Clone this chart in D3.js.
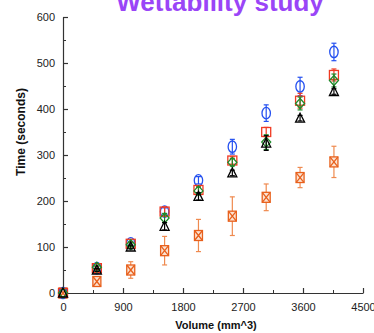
<!DOCTYPE html>
<html>
<head>
<meta charset="utf-8">
<script src="https://cdn.jsdelivr.net/npm/d3@7"></script>
<style>
  body { margin: 0; background: #fff; }
  svg text { font-family: "Liberation Sans", Arial, sans-serif; }
</style>
</head>
<body>
<div id="chart-container"></div>
<script>
// Volume (mm^3) of each run
const volumes = [0, 508, 1016, 1524, 2032, 2540, 3048, 3556, 4064];

// Time (s) per surface, and standard deviation
const blueTimes = [0, 54, 108, 177, 245, 318, 391, 449, 524];
const blueErr = [0, 3, 4, 8, 8, 16, 18, 20, 19];
const redTimes = [0, 54, 107, 177, 224, 288, 350, 418, 474];
const redErr = [0, 3, 4, 10, 8, 8, 10, 16, 13];
const greenTimes = [0, 56, 105, 163, 222, 284, 328, 412, 462];
const greenErr = [0, 3, 4, 10, 8, 8, 16, 14, 14];
const blackTimes = [0, 50, 100, 145, 210, 261, 326, 380, 438];
const blackErr = [0, 3, 4, 8, 8, 6, 16, 6, 6];
const orangeTimes = [0, 25, 50, 92, 125, 167, 208, 251, 285];
const orangeErr = [0, 5, 18, 31, 35, 42, 29, 22, 34];

const xTicks = [0, 900, 1800, 2700, 3600, 4500];
const yTicks = [0, 100, 200, 300, 400, 500, 600];

const margin = { top: 17, right: 11, bottom: 40, left: 63 };
const width = 374 - margin.left - margin.right;
const height = 333 - margin.top - margin.bottom;

const root = d3.select("#chart-container")
    .append("svg")
    .attr("width", 374)
    .attr("height", 333);

const svg = root.append("g")
    .attr("transform", `translate(${margin.left}, ${margin.top})`);

const x = d3.scaleLinear().domain([0, 4500]).range([0, width]);
const y = d3.scaleLinear().domain([0, 600]).range([height, 0]);

// title, cut off at the top as in the original
root.append("text")
    .attr("x", 220)
    .attr("y", 11)
    .attr("text-anchor", "middle")
    .style("font-size", "26px")
    .style("font-weight", "bold")
    .style("fill", "#9a45f7")
    .text("Wettability study");

// minor ticks
svg.append("g")
    .call(d3.axisLeft(y).tickValues(d3.range(50, 600, 100)).tickSizeInner(-3).tickSizeOuter(0).tickFormat(""))
    .call(g => g.select(".domain").remove())
    .selectAll("line").attr("stroke", "#333");
svg.append("g")
    .attr("transform", `translate(0, ${height})`)
    .call(d3.axisBottom(x).tickValues(d3.range(450, 4500, 900)).tickSizeInner(-3).tickSizeOuter(0).tickFormat(""))
    .call(g => g.select(".domain").remove())
    .selectAll("line").attr("stroke", "#333");

// axes
const yAxis = svg.append("g")
    .call(d3.axisLeft(y).tickValues(yTicks).tickFormat(d3.format("d"))
        .tickSizeInner(-5).tickSizeOuter(0).tickPadding(8));
const xAxis = svg.append("g")
    .attr("transform", `translate(0, ${height})`)
    .call(d3.axisBottom(x).tickValues(xTicks).tickFormat(d3.format("d"))
        .tickSizeInner(-5).tickSizeOuter(0).tickPadding(10));

[xAxis, yAxis].forEach(a => {
    a.selectAll("path, line").attr("stroke", "#333").attr("stroke-width", 1.2);
    a.selectAll("text").style("font-size", "11px").attr("fill", "#222");
});

// axis labels
root.append("text")
    .attr("transform", "translate(25, 132) rotate(-90)")
    .attr("text-anchor", "middle")
    .style("font-size", "12px")
    .style("font-weight", "bold")
    .attr("fill", "#111")
    .text("Time (seconds)");

root.append("text")
    .attr("x", 216)
    .attr("y", 329)
    .attr("text-anchor", "middle")
    .style("font-size", "11px")
    .style("font-weight", "bold")
    .attr("fill", "#111")
    .text("Volume (mm^3)");

// marker shapes
const shapes = {
    circle: g => g.append("ellipse").attr("rx", 4.2).attr("ry", 5.7),
    square: g => g.append("rect").attr("x", -4.5).attr("y", -4.5).attr("width", 9).attr("height", 9),
    diamond: g => g.append("path").attr("d", "M0,-5L4.5,0L0,5L-4.5,0Z"),
    triangle: g => g.append("path").attr("d", "M0,-5L4.5,4L-4.5,4Z"),
    crossbox: g => {
        g.append("rect").attr("x", -4).attr("y", -5).attr("width", 8).attr("height", 10).attr("fill", "#fbe3d3");
        g.append("path").attr("d", "M-4,-5L4,5M4,-5L-4,5");
    }
};

const series = [
    { times: orangeTimes, err: orangeErr, color: "#e8601c", bar: "#ef8a4f", shape: "crossbox" },
    { times: blueTimes, err: blueErr, color: "#2450f0", bar: "#2450f0", shape: "circle" },
    { times: redTimes, err: redErr, color: "#f03a22", bar: "#f03a22", shape: "square" },
    { times: greenTimes, err: greenErr, color: "#1f8a2a", bar: "#1f8a2a", shape: "diamond" },
    { times: blackTimes, err: blackErr, color: "#000", bar: "#000", shape: "triangle" }
];

series.forEach(s => {
    const pts = volumes.map((v, i) => ({ v, t: s.times[i], e: s.err[i] }));
    const grp = svg.append("g");

    // error bars
    const eb = grp.selectAll(".eb")
        .data(pts.filter(d => d.e > 0))
        .enter()
        .append("g")
        .attr("stroke", s.bar)
        .attr("stroke-width", 1.2);
    eb.append("line")
        .attr("x1", d => x(d.v)).attr("x2", d => x(d.v))
        .attr("y1", d => y(d.t + d.e)).attr("y2", d => y(d.t - d.e));
    eb.append("line")
        .attr("x1", d => x(d.v) - 2.5).attr("x2", d => x(d.v) + 2.5)
        .attr("y1", d => y(d.t + d.e)).attr("y2", d => y(d.t + d.e));
    eb.append("line")
        .attr("x1", d => x(d.v) - 2.5).attr("x2", d => x(d.v) + 2.5)
        .attr("y1", d => y(d.t - d.e)).attr("y2", d => y(d.t - d.e));

    // markers
    grp.selectAll(".mk")
        .data(pts)
        .enter()
        .append("g")
        .attr("transform", d => `translate(${x(d.v)}, ${y(d.t)})`)
        .attr("fill", "none")
        .attr("stroke", s.color)
        .attr("stroke-width", 1.3)
        .each(function() { shapes[s.shape](d3.select(this)); });
});
</script>
</body>
</html>
